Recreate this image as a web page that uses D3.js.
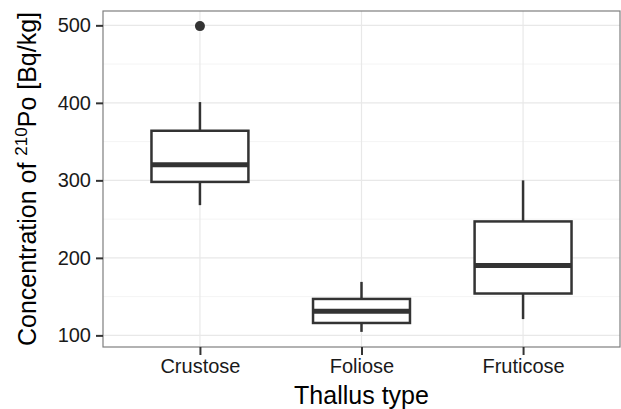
<!DOCTYPE html>
<html>
<head>
<meta charset="utf-8">
<script src="https://cdn.jsdelivr.net/npm/d3@7"></script>
<style>
  body { margin: 0; background: #fff; }
  svg { display: block; font-family: "Liberation Sans", Arial, sans-serif; }
</style>
</head>
<body>
<svg></svg>
<script>
// Box plot of 210Po concentration by thallus type

const categories = ["Crustose", "Foliose", "Fruticose"];
// five-number summaries: lower whisker, Q1, median, Q3, upper whisker
const lowerWhisker = [268, 104.5, 121];
const q1 = [298, 116, 154];
const median = [320, 131, 190];
const q3 = [364, 147, 247];
const upperWhisker = [401, 169, 300];
const outliers = [[499], [], []];

const yTicks = [100, 200, 300, 400, 500];
const yMinor = [150, 250, 350, 450];

const width = 621;
const height = 409;
const margin = {top: 11, right: 1, bottom: 62, left: 103};

const svg = d3.select("svg")
    .attr("width", width)
    .attr("height", height);

const x = d3.scalePoint()
    .domain(categories)
    .range([margin.left, width - margin.right])
    .padding(0.6);

const y = d3.scaleLinear()
    .domain([85, 518.5])
    .range([height - margin.bottom, margin.top]);

const boxW = x.step() * 0.6;

const data = categories.map((c, i) => ({
  name: c,
  lo: lowerWhisker[i], q1: q1[i], med: median[i], q3: q3[i], hi: upperWhisker[i],
  out: outliers[i]
}));

// grid
const grid = svg.append("g");
grid.selectAll(".minor")
  .data(yMinor)
  .join("line")
    .attr("x1", margin.left).attr("x2", width - margin.right)
    .attr("y1", d => y(d)).attr("y2", d => y(d))
    .attr("stroke", "#f4f4f4").attr("stroke-width", 1);
grid.selectAll(".major")
  .data(yTicks)
  .join("line")
    .attr("x1", margin.left).attr("x2", width - margin.right)
    .attr("y1", d => y(d)).attr("y2", d => y(d))
    .attr("stroke", "#e8e8e8").attr("stroke-width", 1.2);
grid.selectAll(".vmajor")
  .data(categories)
  .join("line")
    .attr("x1", d => x(d)).attr("x2", d => x(d))
    .attr("y1", margin.top).attr("y2", height - margin.bottom)
    .attr("stroke", "#e8e8e8").attr("stroke-width", 1.2);

// boxes
const boxes = svg.append("g")
    .attr("stroke", "#333")
    .attr("fill", "none");

const bg = boxes.selectAll("g")
  .data(data)
  .join("g");

bg.append("line")
    .attr("x1", d => x(d.name)).attr("x2", d => x(d.name))
    .attr("y1", d => y(d.q3)).attr("y2", d => y(d.hi))
    .attr("stroke-width", 2.5);
bg.append("line")
    .attr("x1", d => x(d.name)).attr("x2", d => x(d.name))
    .attr("y1", d => y(d.q1)).attr("y2", d => y(d.lo))
    .attr("stroke-width", 2.5);
bg.append("rect")
    .attr("x", d => x(d.name) - boxW / 2)
    .attr("width", boxW)
    .attr("y", d => y(d.q3))
    .attr("height", d => y(d.q1) - y(d.q3))
    .attr("fill", "#fff")
    .attr("stroke-width", 2.5);
bg.append("line")
    .attr("x1", d => x(d.name) - boxW / 2).attr("x2", d => x(d.name) + boxW / 2)
    .attr("y1", d => y(d.med)).attr("y2", d => y(d.med))
    .attr("stroke-width", 5);
bg.selectAll("circle")
  .data(d => d.out.map(v => ({name: d.name, v})))
  .join("circle")
    .attr("cx", d => x(d.name))
    .attr("cy", d => y(d.v))
    .attr("r", 5)
    .attr("fill", "#333")
    .attr("stroke", "none");

// panel border
svg.append("rect")
    .attr("x", margin.left)
    .attr("y", margin.top)
    .attr("width", width - margin.right - margin.left)
    .attr("height", height - margin.bottom - margin.top)
    .attr("fill", "none")
    .attr("stroke", "#7f7f7f")
    .attr("stroke-width", 1.2);

// axes
const yAxis = svg.append("g")
    .attr("transform", `translate(${margin.left},0)`)
    .call(d3.axisLeft(y).tickValues(yTicks).tickSize(7).tickPadding(5));
const xAxis = svg.append("g")
    .attr("transform", `translate(0,${height - margin.bottom})`)
    .call(d3.axisBottom(x).tickSize(8).tickPadding(4));

[yAxis, xAxis].forEach(a => {
  a.select(".domain").remove();
  a.selectAll(".tick line").attr("stroke", "#333").attr("stroke-width", 2);
  a.selectAll(".tick text")
    .attr("fill", "#1a1a1a")
    .style("font-size", "20px");
});

// axis titles
svg.append("text")
    .attr("x", (margin.left + width - margin.right) / 2)
    .attr("y", height - 5)
    .attr("text-anchor", "middle")
    .style("font-size", "25px")
    .text("Thallus type");

const yt = svg.append("text")
    .attr("transform", `translate(36,${(margin.top + height - margin.bottom) / 2}) rotate(-90)`)
    .attr("text-anchor", "middle")
    .style("font-size", "25px");
yt.append("tspan").text("Concentration of ");
yt.append("tspan").attr("dy", -9).style("font-size", "17px").text("210");
yt.append("tspan").attr("dy", 9).text("Po [Bq/kg]");
</script>
</body>
</html>
